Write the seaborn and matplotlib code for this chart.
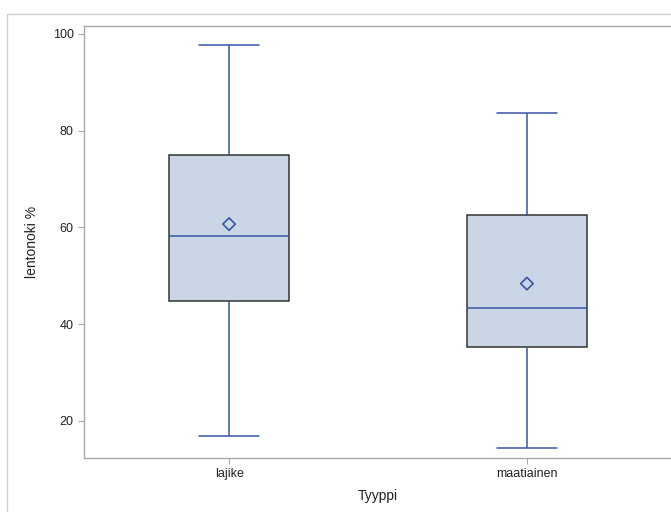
import numpy as np
import pandas as pd
import seaborn as sns
import matplotlib.pyplot as plt
from matplotlib.patches import Rectangle

# five-number summaries (min, Q1, median, Q3, max)
groups = ["lajike", "maatiainen"]
lajike = [17.0, 44.8, 58.3, 75.0, 97.8]
maatiainen = [14.4, 35.3, 43.3, 62.5, 83.7]
means = [60.7, 48.4]

df = pd.DataFrame({
    "Tyyppi": ["lajike"] * len(lajike) + ["maatiainen"] * len(maatiainen),
    "lentonoki %": lajike + maatiainen,
})

sns.set_style("white")
plt.rcParams["font.family"] = ["Liberation Sans", "DejaVu Sans"]

blue = "#3556a6"
fig = plt.figure(figsize=(6.71, 5.12), dpi=100)
ax = fig.add_axes([84 / 671, 54 / 512, 588 / 671, 432 / 512])

sns.boxplot(data=df, x="Tyyppi", y="lentonoki %", ax=ax, order=groups,
            whis=(0, 100), width=0.4, color="#cad5e5", linecolor=blue,
            linewidth=1.1, fliersize=0,
            boxprops=dict(edgecolor="#333333", facecolor="#cad5e5"),
            whiskerprops=dict(color=blue), capprops=dict(color=blue),
            medianprops=dict(color=blue))

sns.scatterplot(x=groups, y=means, ax=ax, marker="D", s=40,
                facecolor="none", edgecolor=blue, linewidth=1.2, zorder=5)

ax.set_xlim(-0.487, 1.487)
ax.set_ylim(12.35, 101.65)
ax.set_yticks([20, 40, 60, 80, 100])
for s in ax.spines.values():
    s.set_color("#a8a8a8")
    s.set_linewidth(1.0)
ax.tick_params(axis="both", which="both", direction="out", length=4,
               width=0.8, color="#a8a8a8", labelsize=9, labelcolor="#222222",
               left=True, bottom=True)
ax.set_xlabel("Tyyppi", fontsize=10, color="#222222", labelpad=6)
ax.set_ylabel("lentonoki %", fontsize=10, color="#222222", labelpad=10)

# outer frame like the original output
fig.patches.append(Rectangle((7 / 671, -0.1), 1.0, 1 - 14 / 512 + 0.1,
                             transform=fig.transFigure, fill=False,
                             edgecolor="#d0d0d0", linewidth=1.0))

fig.savefig("out.png", dpi=100)
